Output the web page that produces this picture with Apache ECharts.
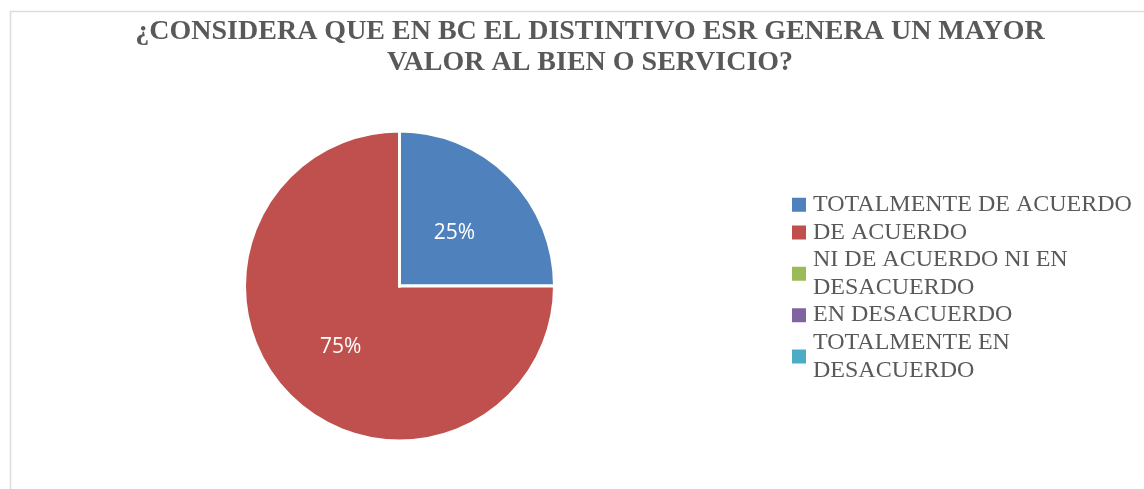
<!DOCTYPE html>
<html>
<head>
<meta charset="utf-8">
<script src="https://cdn.jsdelivr.net/npm/echarts@6/dist/echarts.min.js"></script>
<style>html,body{margin:0;padding:0;background:#fff;}#c{width:1144px;height:489px;}</style>
</head>
<body>
<div id="c"></div>
<script>
const titleText = '¿CONSIDERA QUE EN BC EL DISTINTIVO ESR GENERA UN MAYOR\nVALOR AL BIEN O SERVICIO?';
const categories = ['TOTALMENTE DE ACUERDO', 'DE ACUERDO', 'NI DE ACUERDO NI EN DESACUERDO', 'EN DESACUERDO', 'TOTALMENTE EN DESACUERDO'];
const legendLabels = ['TOTALMENTE DE ACUERDO', 'DE ACUERDO', 'NI DE ACUERDO NI EN\nDESACUERDO', 'EN DESACUERDO', 'TOTALMENTE EN\nDESACUERDO'];
const values = [25, 75, 0, 0, 0];
const colors = ['#4F81BD', '#C0504D', '#9BBB59', '#8064A2', '#4BACC6'];

const chart = echarts.init(document.getElementById('c'), null, {renderer: 'canvas'});
const labelMap = {};
categories.forEach((c, i) => labelMap[c] = legendLabels[i]);

chart.setOption({
  animation: false,
  color: colors,
  graphic: [{
    type: 'rect',
    shape: {x: 10.5, y: 11.5, width: 1300, height: 600},
    style: {fill: 'none', stroke: '#dcdcdc', lineWidth: 1.5},
    silent: true
  }],
  title: {
    text: titleText,
    left: 585,
    textAlign: 'center',
    top: 11,
    textStyle: {
      fontFamily: 'Liberation Serif',
      fontWeight: 'bold',
      fontSize: 28,
      lineHeight: 31,
      color: '#595959'
    }
  },
  legend: {
    orient: 'vertical',
    left: 790,
    top: 191,
    padding: 0,
    itemWidth: 16,
    itemHeight: 16,
    itemGap: 0,
    icon: 'rect',
    data: categories,
    formatter: name => labelMap[name],
    textStyle: {
      fontFamily: 'Liberation Serif',
      fontSize: 24,
      lineHeight: 27.6,
      color: '#595959',
      padding: [0, 0, 0, 1]
    }
  },
  series: [{
    type: 'pie',
    center: [399.5, 286],
    radius: 155,
    startAngle: 90,
    clockwise: true,
    data: categories.map((c, i) => ({name: c, value: values[i]})),
    itemStyle: {borderColor: '#ffffff', borderWidth: 3},
    label: {
      position: 'inside',
      formatter: p => p.value > 0 ? p.percent.toFixed(0) + '%' : '',
      color: '#ffffff',
      fontFamily: 'Open Sans',
      fontSize: 21,
      offset: [-2, 4]
    },
    labelLine: {show: false},
    emphasis: {disabled: true}
  }]
});
</script>
</body>
</html>
